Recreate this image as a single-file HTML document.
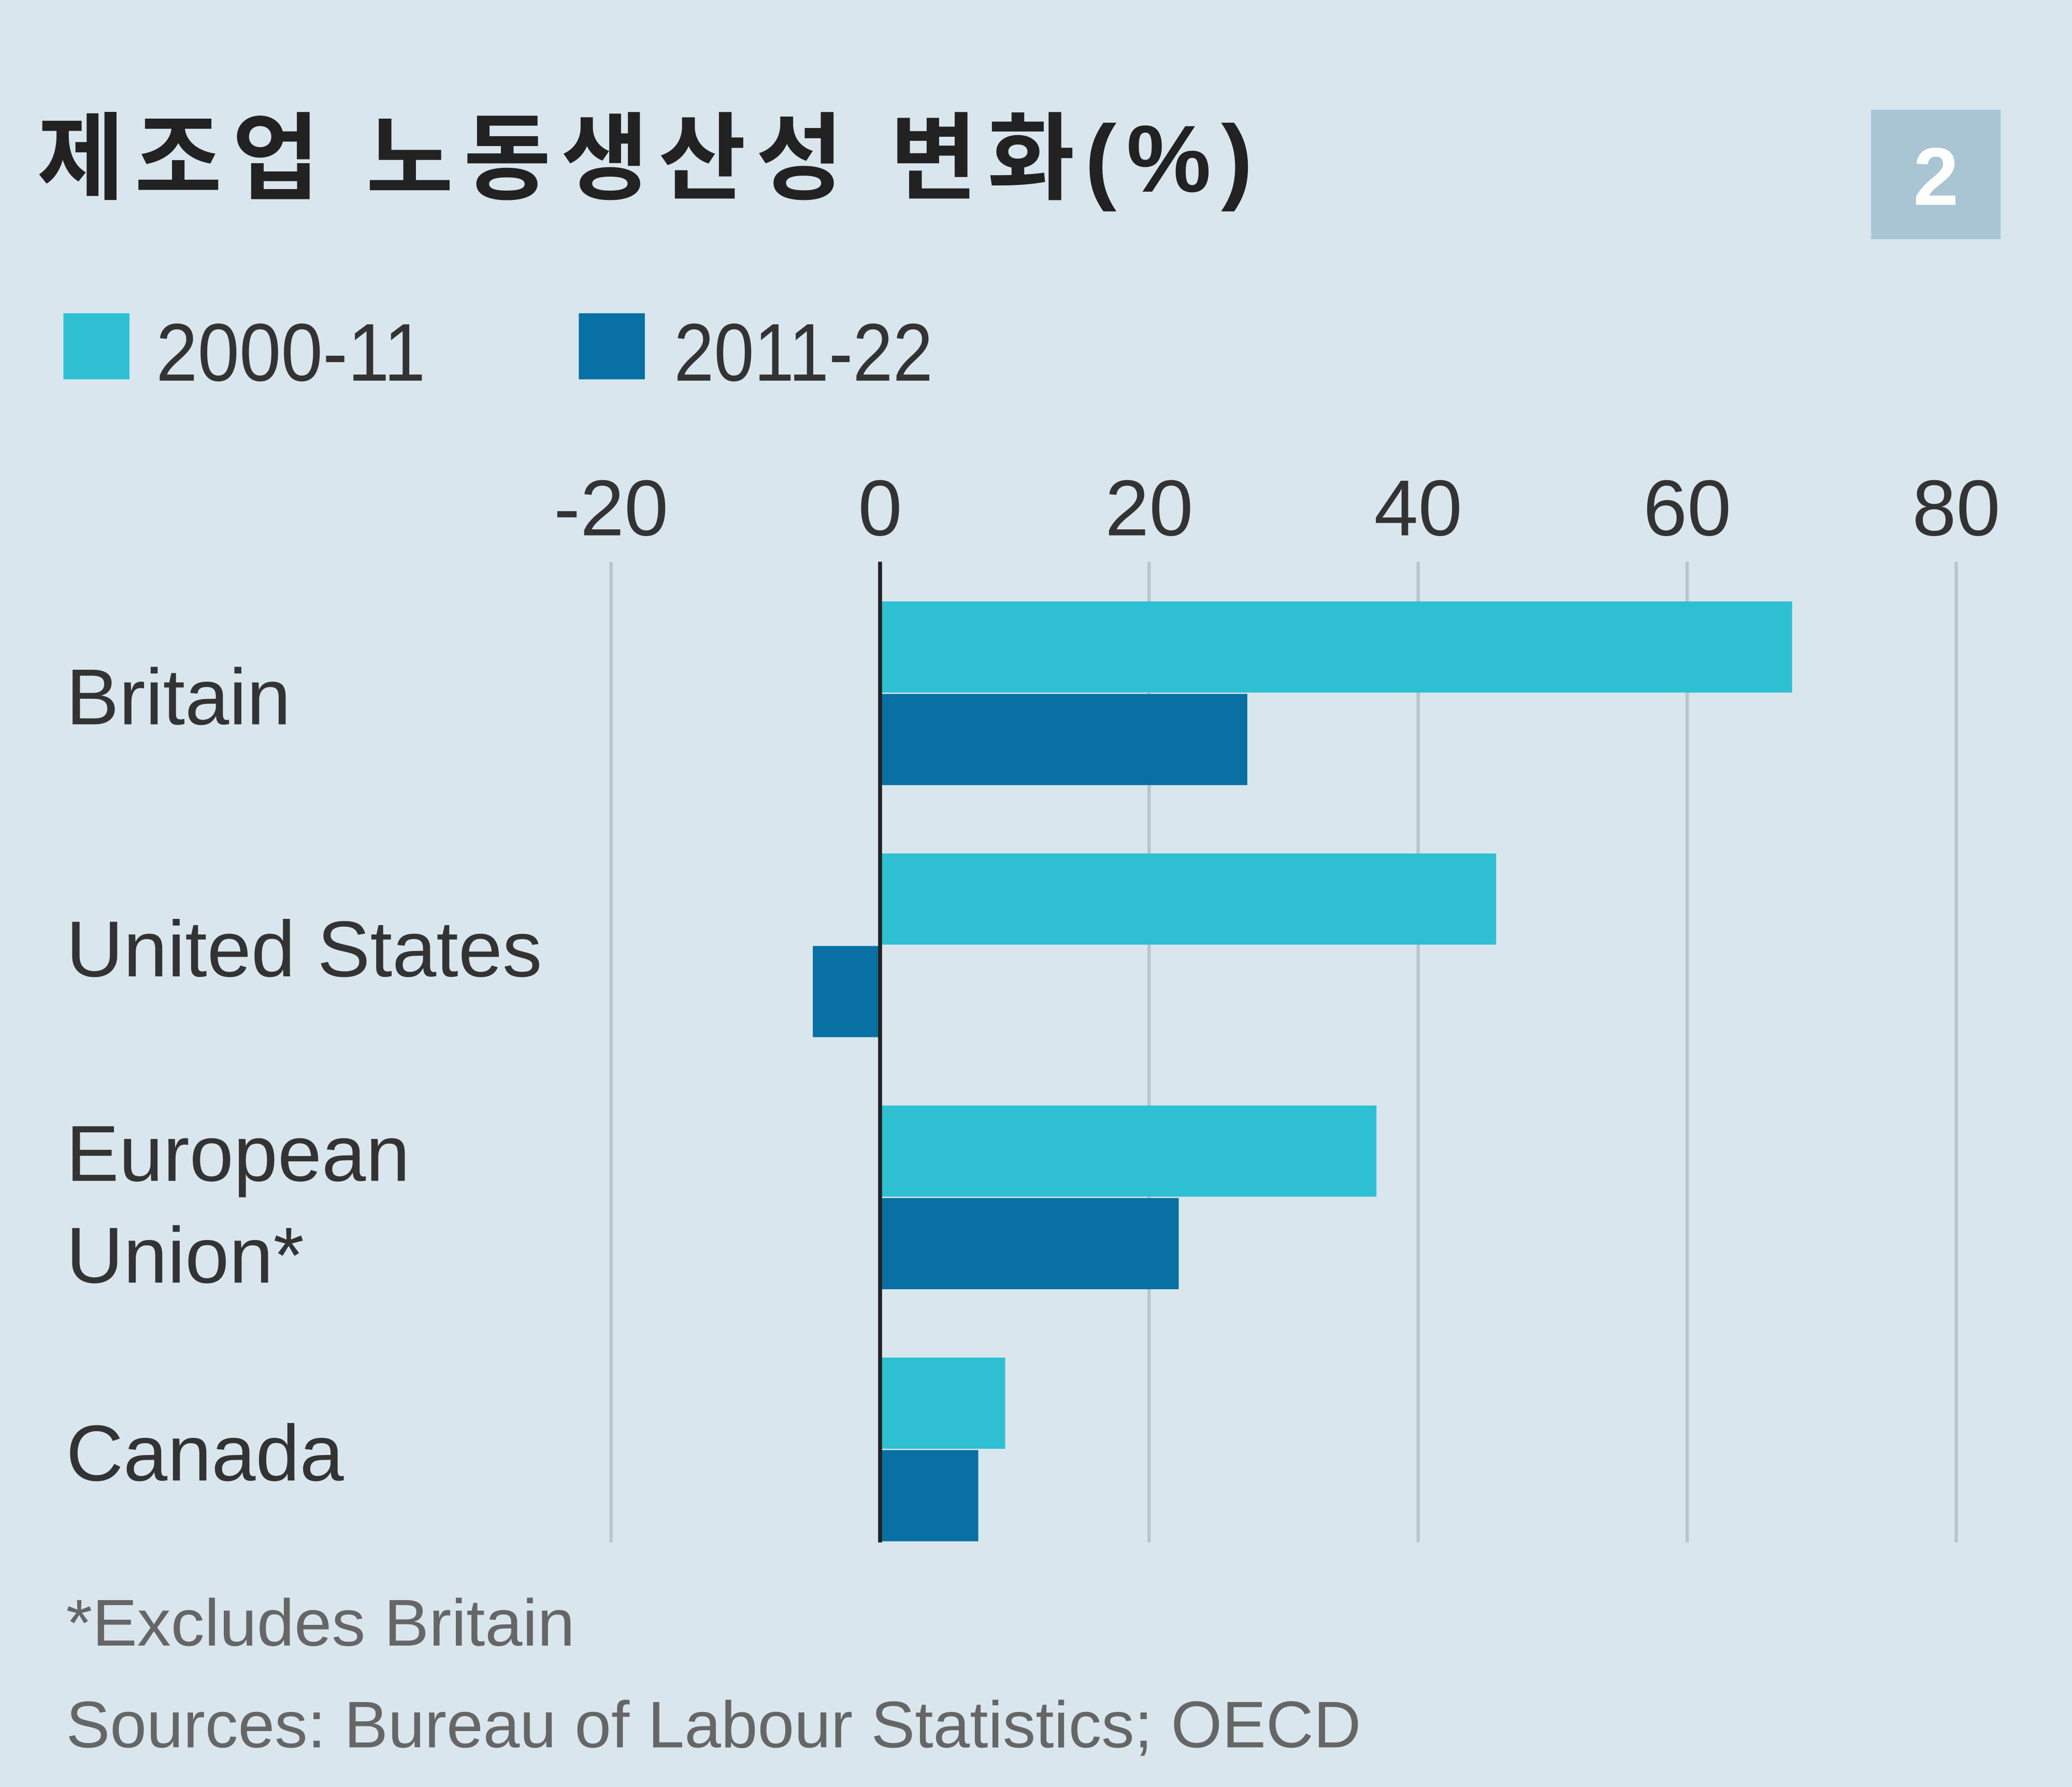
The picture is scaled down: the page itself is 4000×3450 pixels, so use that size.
<!DOCTYPE html>
<html><head><meta charset="utf-8"><style>
html,body{margin:0;padding:0;background:#d9e6ee;}
svg{display:block;}
text{font-family:"Liberation Sans","Noto Sans CJK KR",sans-serif;}
</style></head><body>
<svg id="chart" width="4000" height="3450" viewBox="0 0 1568 1352" preserveAspectRatio="none">
<rect x="0" y="0" width="1568" height="1352" fill="#d9e6ee"/>
<text x="28" y="145" font-size="72" font-weight="bold" fill="#222" textLength="920" lengthAdjust="spacing">제조업 노동생산성 변화(%)</text>
<rect x="1416" y="83" width="98" height="98" fill="#a9c5d3"/>
<text x="1465" y="155" font-size="62" font-weight="bold" fill="#fff" text-anchor="middle">2</text>
<g>
<rect x="48" y="237" width="50" height="50" fill="#2ec0d2"/>
<text x="118" y="288" font-size="62" fill="#333" textLength="204" lengthAdjust="spacingAndGlyphs">2000-11</text>
<rect x="438" y="237" width="50" height="50" fill="#0870a2"/>
<text x="510" y="288" font-size="62" fill="#333" textLength="196" lengthAdjust="spacingAndGlyphs">2011-22</text>
</g>
<g id="grid"></g>
<g id="bars"></g>
<g id="cats"></g>
<line id="zero" stroke="#222" stroke-width="3"/>
<text x="50" y="1245" font-size="50" fill="#666" textLength="385" lengthAdjust="spacingAndGlyphs">*Excludes Britain</text>
<text x="50" y="1322" font-size="50" fill="#666" textLength="980" lengthAdjust="spacingAndGlyphs">Sources: Bureau of Labour Statistics; OECD</text>
</svg>
<script>
const categories = ["Britain","United States","European Union*","Canada"];
const series2000 = [67.8, 45.8, 36.9, 9.3];
const series2011 = [27.3, -5.0, 22.2, 7.3];
const ticks = [-20, 0, 20, 40, 60, 80];

const NS = "http://www.w3.org/2000/svg";
const x = v => 666 + v * 10.18;
const rowTop = i => 455 + i * 190.7;
const barH = 69;
const gTop = 425, gBot = 1167;

function mk(tag, attrs, parent, txt){
  const e = document.createElementNS(NS, tag);
  for (const k in attrs) e.setAttribute(k, attrs[k]);
  if (txt !== undefined) e.textContent = txt;
  parent.appendChild(e);
  return e;
}
const grid = document.getElementById('grid');
ticks.forEach(t => {
  if (t !== 0) {
    const l = mk('line', {x1:x(t), x2:x(t), y1:gTop, y2:gBot, stroke:'#b9c5cc', 'stroke-width':2.5}, grid);
    
    
  }
  const tl = mk('text', {x:x(t), y:405, 'font-size':60, fill:'#333', 'text-anchor':'middle'}, grid, String(t));
  
  
});
const bars = document.getElementById('bars');
categories.forEach((c, i) => {
  const a = series2000[i], b = series2011[i];
  const r1 = mk('rect', {x:Math.min(x(0),x(a)), y:rowTop(i), width:Math.abs(x(a)-x(0)), height:barH, fill:'#2ec0d2'}, bars);
  
  
  const r2 = mk('rect', {x:Math.min(x(0),x(b)), y:rowTop(i)+barH+1, width:Math.abs(x(b)-x(0)), height:barH, fill:'#0870a2'}, bars);
  
  
});
const cats = document.getElementById('cats');
categories.forEach((c, i) => {
  const mid = rowTop(i) + barH;
  const parts = c === "European Union*" ? ["European","Union*"] : [c];
  parts.forEach((p, j) => {
    const y = parts.length === 1 ? mid + 24 : mid - 12 + j * 77;
    const t = mk('text', {x:50, y:y, 'font-size':60, fill:'#333'}, cats, p);
    
    
  });
});
const z = document.getElementById('zero');
z.setAttribute('x1', x(0)); z.setAttribute('x2', x(0));
z.setAttribute('y1', gTop); z.setAttribute('y2', gBot);
</script>
</body></html>
